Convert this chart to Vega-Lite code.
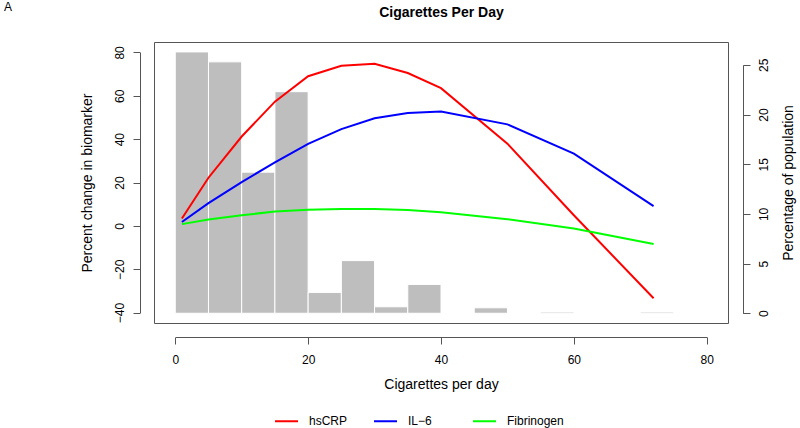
{
  "$schema": "https://vega.github.io/schema/vega-lite/v6.json",
  "width": 574,
  "height": 281,
  "autosize": {"type": "none"},
  "padding": {"left": 154, "top": 42, "right": 72, "bottom": 105},
  "background": "white",
  "config": {
    "font": "Liberation Sans",
    "view": {"stroke": "#555", "strokeWidth": 1},
    "axis": {
      "grid": false,
      "domainColor": "#555",
      "tickColor": "#555",
      "labelColor": "#000",
      "titleColor": "#000",
      "labelFontSize": 12,
      "titleFontSize": 14,
      "titleFontWeight": "normal",
      "tickSize": 7,
      "labelFont": "Liberation Sans",
      "titleFont": "Liberation Sans"
    }
  },
  "title": {
    "text": "A",
    "anchor": "start",
    "frame": "group",
    "dx": -150,
    "dy": 18,
    "offset": 0,
    "baseline": "alphabetic",
    "fontSize": 12,
    "fontWeight": "normal",
    "font": "Liberation Sans",
    "color": "#000"
  },
  "datasets": {
    "hist": [
      {"start": 0, "end": 5, "pct": 26.3},
      {"start": 5, "end": 10, "pct": 25.3},
      {"start": 10, "end": 15, "pct": 14.2},
      {"start": 15, "end": 20, "pct": 22.3},
      {"start": 20, "end": 25, "pct": 2.1},
      {"start": 25, "end": 30, "pct": 5.3},
      {"start": 30, "end": 35, "pct": 0.65},
      {"start": 35, "end": 40, "pct": 2.9},
      {"start": 45, "end": 50, "pct": 0.55},
      {"start": 55, "end": 60, "pct": 0.12},
      {"start": 70, "end": 75, "pct": 0.12}
    ],
    "curves": [
      {"series": "hsCRP", "cig": 1, "change": 3.4},
      {"series": "hsCRP", "cig": 5, "change": 22.2},
      {"series": "hsCRP", "cig": 10, "change": 41.2},
      {"series": "hsCRP", "cig": 15, "change": 57.3},
      {"series": "hsCRP", "cig": 20, "change": 69.0},
      {"series": "hsCRP", "cig": 25, "change": 73.8},
      {"series": "hsCRP", "cig": 30, "change": 74.8},
      {"series": "hsCRP", "cig": 35, "change": 70.5},
      {"series": "hsCRP", "cig": 40, "change": 63.5},
      {"series": "hsCRP", "cig": 50, "change": 37.9},
      {"series": "hsCRP", "cig": 60, "change": 4.9},
      {"series": "hsCRP", "cig": 72, "change": -33.4},
      {"series": "IL−6", "cig": 1, "change": 1.8},
      {"series": "IL−6", "cig": 5, "change": 10.5},
      {"series": "IL−6", "cig": 10, "change": 20.2},
      {"series": "IL−6", "cig": 15, "change": 29.3},
      {"series": "IL−6", "cig": 20, "change": 37.8},
      {"series": "IL−6", "cig": 25, "change": 44.6},
      {"series": "IL−6", "cig": 30, "change": 49.6},
      {"series": "IL−6", "cig": 35, "change": 52.0},
      {"series": "IL−6", "cig": 40, "change": 52.7},
      {"series": "IL−6", "cig": 50, "change": 46.8},
      {"series": "IL−6", "cig": 60, "change": 33.3},
      {"series": "IL−6", "cig": 72, "change": 9.1},
      {"series": "Fibrinogen", "cig": 1, "change": 0.8},
      {"series": "Fibrinogen", "cig": 5, "change": 2.9},
      {"series": "Fibrinogen", "cig": 10, "change": 4.9},
      {"series": "Fibrinogen", "cig": 15, "change": 6.6},
      {"series": "Fibrinogen", "cig": 20, "change": 7.4},
      {"series": "Fibrinogen", "cig": 25, "change": 7.8},
      {"series": "Fibrinogen", "cig": 30, "change": 7.8},
      {"series": "Fibrinogen", "cig": 35, "change": 7.3},
      {"series": "Fibrinogen", "cig": 40, "change": 6.3},
      {"series": "Fibrinogen", "cig": 50, "change": 3.1},
      {"series": "Fibrinogen", "cig": 60, "change": -1.2},
      {"series": "Fibrinogen", "cig": 72, "change": -8.4}
    ]
  },
  "layer": [
    {
      "data": {"name": "hist"},
      "mark": {"type": "rect", "fill": "#BEBEBE", "stroke": "white", "strokeWidth": 1},
      "encoding": {
        "x": {
          "field": "start",
          "type": "quantitative",
          "scale": {"domain": [-3.2, 83.2], "nice": false, "zero": false},
          "axis": {
            "orient": "bottom",
            "offset": 14,
            "values": [0, 20, 40, 60, 80],
            "labelPadding": 10,
            "title": "Cigarettes per day",
            "titlePadding": 12,
            "domainDash": [0, 21.3, 531.4, 60]
          }
        },
        "x2": {"field": "end"},
        "y": {
          "field": "pct",
          "type": "quantitative",
          "scale": {"domain": [-0.98, 27.3], "nice": false, "zero": false},
          "axis": {
            "orient": "right",
            "offset": 15,
            "values": [0, 5, 10, 15, 20, 25],
            "labelAngle": -90,
            "labelAlign": "center",
            "labelBaseline": "top",
            "labelPadding": 8,
            "title": "Percentage of population",
            "titleAngle": -90,
            "titleBaseline": "top",
            "titlePadding": 12,
            "domainDash": [0, 9.7, 248.4, 60]
          }
        },
        "y2": {"datum": 0}
      }
    },
    {
      "data": {"name": "curves"},
      "mark": {"type": "line", "strokeWidth": 2},
      "encoding": {
        "x": {
          "field": "cig",
          "type": "quantitative",
          "axis": {
            "orient": "top",
            "labels": false,
            "ticks": false,
            "domain": false,
            "title": "Cigarettes Per Day",
            "titleFontWeight": "bold",
            "titleFontSize": 14,
            "titleBaseline": "alphabetic",
            "titlePadding": 26
          }
        },
        "y": {
          "field": "change",
          "type": "quantitative",
          "scale": {"domain": [-44.8, 84.8], "nice": false, "zero": false},
          "axis": {
            "orient": "left",
            "offset": 14,
            "values": [-40, -20, 0, 20, 40, 60, 80],
            "labelAngle": -90,
            "labelAlign": "center",
            "labelBaseline": "alphabetic",
            "labelPadding": 10,
            "title": "Percent change in biomarker",
            "titlePadding": 19,
            "domainDash": [0, 10.4, 260.2, 60]
          }
        },
        "color": {
          "field": "series",
          "type": "nominal",
          "scale": {"domain": ["hsCRP", "IL−6", "Fibrinogen"], "range": ["#FF0000", "#0000FF", "#00FF00"]},
          "legend": {
            "orient": "none",
            "legendX": 120,
            "legendY": 366.5,
            "direction": "horizontal",
            "title": null,
            "symbolType": "stroke",
            "symbolSize": 529,
            "symbolStrokeWidth": 2,
            "labelFontSize": 12,
            "labelOffset": 10,
            "labelColor": "#000",
            "labelFont": "Liberation Sans",
            "gridAlign": "all",
            "columnPadding": 4
          }
        }
      }
    }
  ],
  "resolve": {"scale": {"y": "independent"}, "axis": {"x": "independent", "y": "independent"}}
}
